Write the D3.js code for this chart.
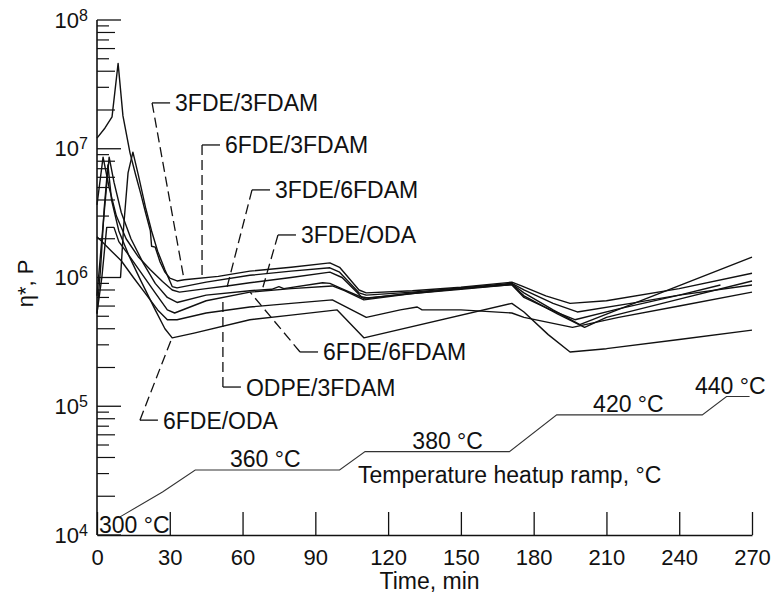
<!DOCTYPE html>
<html><head><meta charset="utf-8">
<script src="https://cdn.jsdelivr.net/npm/d3@7"></script>
<style>
body{margin:0;background:#fff}
svg text{font-family:"Liberation Sans",Arial,Helvetica,sans-serif;fill:#111}
</style>
</head><body>
<svg id="c" width="777" height="596"></svg>
<script>
// ---------- data ----------
const timeTicks = [0,30,60,90,120,150,180,210,240,270];
const etaDecades = [1e4,1e5,1e6,1e7,1e8];
const minorMultipliers = [2,3,4,5,6,7,8,9];

const c3FDE_3FDAM = [[0,1.21e7],[3.3,1.45e7],[6.2,1.77e7],[8.7,4.6e7],[10.7,1.8e7],[13.6,9.3e6],[16,6.2e6],[18,4.5e6],[20,3.2e6],[22,2.3e6],[22.5,1.75e6],[24,1.72e6],[26,1.32e6],[28,1.1e6],[30,9.9e5],[33,9.4e5],[36,9.6e5],[50,1.02e6],[63,1.12e6],[80,1.2e6],[96,1.3e6],[100,1.2e6],[108,8.0e5],[111,7.6e5],[130,7.9e5],[150,8.4e5],[171,9.2e5],[175,8.6e5],[185,7.2e5],[195,6.3e5],[210,6.6e5],[240,8.2e5],[270,1.08e6]];
const c6FDE_3FDAM = [[9.7,1.0e6],[11,2.5e6],[12.8,6.5e6],[14.8,9.4e6],[17,6.3e6],[20,3.5e6],[22.5,2.3e6],[25,1.6e6],[28,1.15e6],[31,8.5e5],[33,8.3e5],[45,9.2e5],[63,1.04e6],[80,1.12e6],[96,1.19e6],[100,1.1e6],[108,7.6e5],[111,7.3e5],[130,7.7e5],[150,8.3e5],[171,9.0e5],[176,8.0e5],[188,6.3e5],[198,5.4e5],[220,6.3e5],[240,7.3e5],[257,8.75e5]];
const c3FDE_6FDAM = [[0,3.66e6],[2.5,8.6e6],[5,5.0e6],[8,3.0e6],[12,2.0e6],[17,1.45e6],[22,1.15e6],[27,9.3e5],[31,8.0e5],[34,7.7e5],[45,8.2e5],[53.6,8.6e5],[63,9.1e5],[80,1.0e6],[96,1.1e6],[101,1.0e6],[109,7.1e5],[112,6.9e5],[130,7.6e5],[150,8.2e5],[171,8.9e5],[176,7.6e5],[188,5.6e5],[199,4.3e5],[270,1.44e6]];
const c3FDE_ODA = [[0,7.2e5],[2,2.0e6],[5,8.6e6],[7,5.5e6],[10,3.2e6],[14,2.0e6],[19,1.3e6],[24,9.0e5],[29,7.0e5],[33,6.4e5],[45,7.3e5],[63,7.9e5],[72,8.1e5],[75,8.5e5],[77,8.2e5],[93,9.1e5],[96,9.0e5],[102,8.0e5],[110,6.9e5],[130,7.5e5],[150,8.2e5],[171,8.8e5],[176,7.2e5],[190,5.2e5],[201,4.1e5],[210,4.9e5],[240,6.8e5],[270,9.4e5]];
const c6FDE_6FDAM = [[0,5.3e5],[2,1.0e6],[4,2.45e6],[7,2.45e6],[9,1.9e6],[13,1.5e6],[18,1.1e6],[24,7.6e5],[29,5.6e5],[32,5.3e5],[45,6.6e5],[63,7.7e5],[80,8.2e5],[97,8.6e5],[102,7.9e5],[110,6.7e5],[130,7.5e5],[150,8.1e5],[171,8.8e5],[176,7.0e5],[187,5.6e5],[197,4.7e5],[215,5.7e5],[240,7.3e5],[270,8.75e5]];
const cODPE_3FDAM = [[0,2.07e6],[2,1.9e6],[6,1.6e6],[10,1.35e6],[15,1.0e6],[20,7.5e5],[25,5.6e5],[29,4.7e5],[33,4.7e5],[45,5.3e5],[63,5.9e5],[80,6.3e5],[97,6.7e5],[111,4.9e5],[125,5.6e5],[132,5.9e5],[134,5.6e5],[150,5.6e5],[171,5.3e5],[176,4.9e5],[196,4.1e5],[215,4.9e5],[240,6.0e5],[270,7.7e5]];
const c6FDE_ODA = [[0,5.2e5],[1.5,1.2e6],[3,3.5e6],[4.5,7.5e6],[6,4.0e6],[9,2.3e6],[13,1.5e6],[18,9.5e5],[24,5.6e5],[28,4.0e5],[31,3.4e5],[40,3.7e5],[63,4.7e5],[80,5.1e5],[99,5.6e5],[110,3.4e5],[171,6.3e5],[176,5.4e5],[186,3.6e5],[195,2.64e5],[210,2.8e5],[240,3.3e5],[270,3.9e5]];

const curveNames = ["3FDE/3FDAM","6FDE/3FDAM","3FDE/6FDAM","3FDE/ODA","6FDE/6FDAM","ODPE/3FDAM","6FDE/ODA"];
const curveData = [c3FDE_3FDAM,c6FDE_3FDAM,c3FDE_6FDAM,c3FDE_ODA,c6FDE_6FDAM,cODPE_3FDAM,c6FDE_ODA];

// leader annotations (label corner and curve target, in data units)
const annCornerT   = [22.7, 43.3, 63.9, 74.6, 83.7, 51.9, 17.7];
const annCornerEta = [2.27e7,1.07e7,4.79e6,2.14e6,2.64e5,1.41e5,7.8e4];
const annTargetT   = [35.9, 43.3, 53.6, 68.4, 63.1, 51.9, 30.9];
const annTargetEta = [9.6e5,9.6e5,8.4e5,8.4e5,7.7e5,6.7e5,3.4e5];

// temperature heat-up ramp (time, °C)
const rampTime = [9.5,27,40.5,100,110.5,170,189.5,249.5,259.5,269];
const rampTemp = [309,336,360,360,380,380,420,420,440,440];
const tempLabels = ["300 °C","360 °C","380 °C","420 °C","440 °C"];
const tempLabelT = [0.8,54.8,130,204.5,246.5];
const tempLabelC = [300,360,380,420,440];

// ---------- drawing ----------
const svg = d3.select("#c");
const x = d3.scaleLinear().domain([0,270]).range([97,752]);
const y = d3.scaleLog().domain([1e4,1e8]).range([535,20]);
const yT = d3.scaleLinear().domain([360,440]).range([470,396.5]);

// x axis (ticks inward)
const xAxis = d3.axisBottom(x).tickValues(timeTicks).tickSizeInner(-23).tickSizeOuter(0).tickPadding(14.5);
const gx = svg.append("g").attr("transform",`translate(0,${y(1e4)})`).call(xAxis);
gx.select(".domain").attr("stroke","#111").attr("stroke-width",1.6);
gx.selectAll(".tick line").attr("stroke","#111").attr("stroke-width",1.3);
gx.selectAll(".tick text").attr("font-size",22).attr("font-family","Liberation Sans, Arial, sans-serif").attr("fill","#111");

svg.append("text").attr("x",(x(0)+x(270))/2+5).attr("y",589).attr("text-anchor","middle")
  .attr("font-size",23).text("Time, min");

// y axis
const gy = svg.append("g");
gy.append("line").attr("x1",x(0)).attr("x2",x(0)).attr("y1",y(1e8)).attr("y2",y(1e4))
  .attr("stroke","#111").attr("stroke-width",1.6);
etaDecades.forEach((d,i)=>{
  gy.append("line").attr("x1",x(0)).attr("x2",x(0)+24).attr("y1",y(d)).attr("y2",y(d))
    .attr("stroke","#111").attr("stroke-width",1.3);
  const t = gy.append("text").attr("x",x(0)-9).attr("y",y(d)+7.5).attr("text-anchor","end").attr("font-size",22);
  t.append("tspan").text("10");
  t.append("tspan").attr("font-size",16).attr("dy",-7).text(String(Math.round(Math.log10(d))));
  if(d<1e8){
    minorMultipliers.forEach(m=>{
      const v=m*d;
      gy.append("line").attr("x1",x(0)).attr("x2",x(0)+(m%2===0?18:12)).attr("y1",y(v)).attr("y2",y(v))
        .attr("stroke","#111").attr("stroke-width",1.2);
    });
  }
});
svg.append("text").attr("transform",`translate(33,${(y(1e6)+6)}) rotate(-90)`).attr("text-anchor","middle")
  .attr("font-size",22).text("η*, P");

// curves
const line = d3.line().x(d=>x(d[0])).y(d=>y(d[1]));
svg.append("g").selectAll("path").data(curveData).join("path")
  .attr("d",line).attr("fill","none").attr("stroke","#111").attr("stroke-width",1.4)
  .attr("stroke-linejoin","round");

// annotations
const ag = svg.append("g");
curveNames.forEach((name,i)=>{
  const cx=x(annCornerT[i]), cy=y(annCornerEta[i]);
  const tx=x(annTargetT[i]), ty=y(annTargetEta[i]);
  ag.append("line").attr("x1",cx).attr("y1",cy).attr("x2",tx).attr("y2",ty)
    .attr("stroke","#111").attr("stroke-width",1.3).attr("stroke-dasharray","10,5");
  ag.append("line").attr("x1",cx).attr("y1",cy).attr("x2",cx+18).attr("y2",cy)
    .attr("stroke","#111").attr("stroke-width",1.3);
  ag.append("text").attr("x",cx+23).attr("y",cy+8.5).attr("font-size",23).text(name);
});

// temperature ramp
const rampLine = d3.line().x(d=>x(d[0])).y(d=>yT(d[1]));
svg.append("path").datum(rampTime.map((t,i)=>[t,rampTemp[i]])).attr("d",rampLine)
  .attr("fill","none").attr("stroke","#333").attr("stroke-width",1.1);
tempLabels.forEach((s,i)=>{
  svg.append("text").attr("x",x(tempLabelT[i])).attr("y",yT(tempLabelC[i])+(i===0?8:-3))
    .attr("font-size",23).text(s);
});
svg.append("text").attr("x",x(107.6)).attr("y",yT(360)+13).attr("font-size",23).text("Temperature heatup ramp, °C");
</script>
</body></html>
